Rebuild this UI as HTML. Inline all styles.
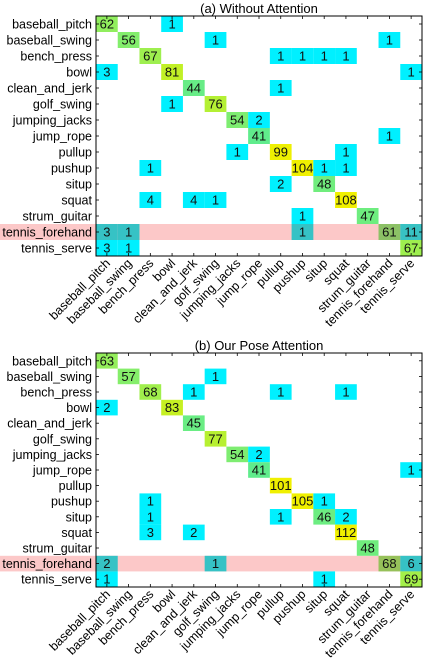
<!DOCTYPE html>
<html><head><meta charset="utf-8">
<style>
html,body{margin:0;padding:0;background:#fff;}
svg{display:block;font-family:"Liberation Sans",Arial,sans-serif;}
</style></head>
<body>
<svg id="chart" width="431" height="660" viewBox="0 0 431 660" xmlns="http://www.w3.org/2000/svg"></svg>
<script>
const categories = ["baseball_pitch","baseball_swing","bench_press","bowl","clean_and_jerk","golf_swing","jumping_jacks","jump_rope","pullup","pushup","situp","squat","strum_guitar","tennis_forehand","tennis_serve"];
const titleA = "(a) Without Attention";
const titleB = "(b) Our Pose Attention";
const highlightRow = 13;
// [row, col, value]
const cellsA = [
 [0,0,62],[0,3,1],
 [1,1,56],[1,5,1],[1,13,1],
 [2,2,67],[2,8,1],[2,9,1],[2,10,1],[2,11,1],
 [3,0,3],[3,3,81],[3,14,1],
 [4,4,44],[4,8,1],
 [5,3,1],[5,5,76],
 [6,6,54],[6,7,2],
 [7,7,41],[7,13,1],
 [8,6,1],[8,8,99],[8,11,1],
 [9,2,1],[9,9,104],[9,10,1],[9,11,1],
 [10,8,2],[10,10,48],
 [11,2,4],[11,4,4],[11,5,1],[11,11,108],
 [12,9,1],[12,12,47],
 [13,0,3],[13,1,1],[13,9,1],[13,13,61],[13,14,11],
 [14,0,3],[14,1,1],[14,14,67]
];
const cellsB = [
 [0,0,63],
 [1,1,57],[1,5,1],
 [2,2,68],[2,4,1],[2,8,1],[2,11,1],
 [3,0,2],[3,3,83],
 [4,4,45],
 [5,5,77],
 [6,6,54],[6,7,2],
 [7,7,41],[7,14,1],
 [8,8,101],
 [9,2,1],[9,9,105],[9,10,1],
 [10,2,1],[10,8,1],[10,10,46],[10,11,2],
 [11,2,3],[11,4,2],[11,11,112],
 [12,12,48],
 [13,0,2],[13,5,1],[13,13,68],[13,14,6],
 [14,0,1],[14,10,1],[14,14,69]
];

const NS = "http://www.w3.org/2000/svg";
const svg = document.getElementById("chart");
function mk(tag, attrs, parent){
  const e = document.createElementNS(NS, tag);
  for (const k in attrs) e.setAttribute(k, attrs[k]);
  (parent||svg).appendChild(e);
  return e;
}
const stops = [[0,[0,240,255]],[10,[0,240,255]],[40,[94,236,142]],[60,[140,238,100]],[80,[190,240,40]],[100,[240,240,0]],[200,[240,240,0]]];
function colorFor(v, hl){
  let c = stops[stops.length-1][1];
  for (let i=0;i<stops.length-1;i++){
    const [a,ca]=stops[i],[b,cb]=stops[i+1];
    if (v>=a && v<=b){ const t=(v-a)/(b-a); c=ca.map((x,j)=>x+(cb[j]-x)*t); break; }
  }
  if (hl) c = c.map((x,j)=>x*0.6+[135,125,110][j]*0.4);
  return "rgb("+c.map(Math.round).join(",")+")";
}

function drawMatrix(cfg){
  const n = categories.length;
  const L=96, R=422, cw=(R-L)/n, T=cfg.top, rh=cfg.rowH, B=T+rh*n;
  const xOf = c => L + c*cw;
  const yOf = r => T + r*rh;
  const g = mk("g", {});
  
  
  const band = mk("rect", {x:0, y:yOf(highlightRow), width:R, height:rh, fill:"#fcc8c8"}, g);
  
  
  const t = mk("text", {x:(L+R)/2, y:T-3, "text-anchor":"middle", "font-size":"13", fill:"#000"}, g);
  t.textContent = cfg.title;
  
  
  cfg.cells.forEach(([r,c,v])=>{
    const hl = r===highlightRow;
    const rc = mk("rect", {x:xOf(c), y:yOf(r), width:cw, height:rh, fill:colorFor(v,hl)}, g);
    
    
    const tx = mk("text", {x:xOf(c)+cw/2, y:yOf(r)+rh/2+4.5, "text-anchor":"middle", "font-size":"13", fill:"#111"}, g);
    tx.textContent = v;
    
    
  });
  const fr = mk("rect", {x:L, y:T, width:R-L, height:B-T, fill:"none", stroke:"#000", "stroke-width":"1"}, g);
  
  
  for (let i=0;i<n;i++){
    const cx = xOf(i)+cw/2, cy = yOf(i)+rh/2;
    mk("line",{x1:cx,y1:T,x2:cx,y2:T+3,stroke:"#000","stroke-width":"0.8"},g);
    mk("line",{x1:cx,y1:B,x2:cx,y2:B-3,stroke:"#000","stroke-width":"0.8"},g);
    mk("line",{x1:L,y1:cy,x2:L+3,y2:cy,stroke:"#000","stroke-width":"0.8"},g);
    mk("line",{x1:R,y1:cy,x2:R-3,y2:cy,stroke:"#000","stroke-width":"0.8"},g);
    const yl = mk("text",{x:L-4, y:cy+4.5, "text-anchor":"end", "font-size":"12.5", fill:"#000"}, g);
    yl.textContent = categories[i];
    
    
    const xl = mk("text",{x:0, y:0, "text-anchor":"end", "font-size":"12.5", fill:"#000",
      transform:"translate("+(cx+4)+","+(B+8)+") rotate(-45)"}, g);
    xl.textContent = categories[i];
    
    
  }
}
drawMatrix({name:"matrix-without-attention", title:titleA, cells:cellsA, top:16, rowH:16});
drawMatrix({name:"matrix-pose-attention", title:titleB, cells:cellsB, top:353, rowH:15.6});
</script>
</body></html>
